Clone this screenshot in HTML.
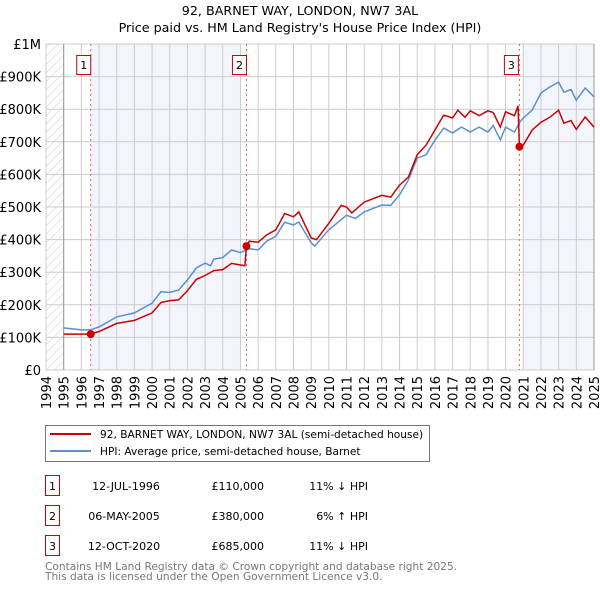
<!DOCTYPE html>
<html><head><meta charset="utf-8"><style>
body{margin:0;background:#fff;font-family:"DejaVu Sans","Liberation Sans",sans-serif;}
svg text{font-family:"DejaVu Sans","Liberation Sans",sans-serif;}
</style></head><body>
<svg id="chart" width="600" height="590" xmlns="http://www.w3.org/2000/svg">
<defs><pattern id="hatch" patternUnits="userSpaceOnUse" width="6" height="6" patternTransform="rotate(45)"><line x1="0" y1="0" x2="0" y2="6" stroke="#ccc" stroke-width="1"/></pattern></defs>
<text x="300" y="15" text-anchor="middle" font-size="12.7">92, BARNET WAY, LONDON, NW7 3AL</text>
<text x="300" y="32" text-anchor="middle" font-size="12.7">Price paid vs. HM Land Registry's House Price Index (HPI)</text>
<g id="plot"></g>
<g>
<rect x="45.5" y="425.5" width="384" height="36" fill="#fff" stroke="#777"/>
<line x1="50" y1="434" x2="91" y2="434" stroke="#cc0000" stroke-width="2"/>
<text x="100" y="438" font-size="10.6">92, BARNET WAY, LONDON, NW7 3AL (semi-detached house)</text>
<line x1="50" y1="451" x2="91" y2="451" stroke="#5b8fd0" stroke-width="2"/>
<text x="100" y="455" font-size="10.6">HPI: Average price, semi-detached house, Barnet</text>
</g>
<g font-size="11">
<rect x="45.5" y="475.5" width="14" height="20" fill="#fff" stroke="#cc0000"/><text x="52.5" y="490" text-anchor="middle">1</text>
<text x="126" y="490" text-anchor="middle">12-JUL-1996</text><text x="264" y="490" text-anchor="end">£110,000</text><text x="368" y="490" text-anchor="end">11% ↓ HPI</text>
<rect x="45.5" y="505.5" width="14" height="20" fill="#fff" stroke="#cc0000"/><text x="52.5" y="520" text-anchor="middle">2</text>
<text x="124" y="520" text-anchor="middle">06-MAY-2005</text><text x="264" y="520" text-anchor="end">£380,000</text><text x="368" y="520" text-anchor="end">6% ↑ HPI</text>
<rect x="45.5" y="535.5" width="14" height="20" fill="#fff" stroke="#cc0000"/><text x="52.5" y="550" text-anchor="middle">3</text>
<text x="124" y="550" text-anchor="middle">12-OCT-2020</text><text x="264" y="550" text-anchor="end">£685,000</text><text x="368" y="550" text-anchor="end">11% ↓ HPI</text>
</g>
<text x="45" y="570" font-size="10.6" fill="#777">Contains HM Land Registry data © Crown copyright and database right 2025.</text>
<text x="45" y="580" font-size="10.6" fill="#777">This data is licensed under the Open Government Licence v3.0.</text>
</svg>
<script>
const hpiYears=[1995,1996,1996.5,1997,1998,1999,2000,2000.5,2001,2001.5,2002,2002.5,2003,2003.3,2003.5,2004,2004.5,2005,2005.5,2006,2006.5,2007,2007.5,2008,2008.3,2009,2009.2,2010,2011,2011.5,2012,2013,2013.5,2014,2014.5,2015,2015.5,2016,2016.5,2017,2017.5,2018,2018.5,2019,2019.3,2019.7,2020,2020.5,2020.8,2021,2021.5,2022,2022.5,2023,2023.3,2023.7,2024,2024.5,2025];
const hpiValues=[129,123,123,132,163,175,205,240,238,245,276,313,328,320,340,345,368,360,372,368,396,410,453,445,454,390,380,430,475,465,485,506,505,537,583,650,660,705,742,727,745,730,745,730,750,706,745,730,760,773,797,850,868,883,852,860,828,865,838];
const ppYears=[1995,1996.5,1997,1998,1999,2000,2000.5,2001,2001.5,2002,2002.5,2003,2003.5,2004,2004.5,2005.25,2005.34,2005.5,2006,2006.5,2007,2007.5,2008,2008.3,2009,2009.3,2010,2010.7,2011,2011.3,2012,2013,2013.5,2014,2014.5,2015,2015.5,2016,2016.5,2017,2017.3,2017.7,2018,2018.5,2019,2019.3,2019.7,2020,2020.5,2020.7,2020.78,2021,2021.5,2022,2022.5,2023,2023.3,2023.7,2024,2024.5,2025];
const ppValues=[110,110,118,143,152,175,207,213,215,243,278,290,305,308,327,320,380,395,392,415,430,480,470,485,405,400,450,505,500,482,515,536,530,567,592,660,690,736,782,773,797,775,795,780,795,790,745,792,780,810,685,690,736,760,775,797,757,765,738,776,745];
const saleYears=[1996.53,2005.34,2020.78];
const saleValues=[110,380,685];
const saleLabels=["1","2","3"];
const yTicks=[0,100,200,300,400,500,600,700,800,900,1000];
const yTickLabels=["£0","£100K","£200K","£300K","£400K","£500K","£600K","£700K","£800K","£900K","£1M"];
const xYears=[1994,1995,1996,1997,1998,1999,2000,2001,2002,2003,2004,2005,2006,2007,2008,2009,2010,2011,2012,2013,2014,2015,2016,2017,2018,2019,2020,2021,2022,2023,2024,2025];

const X0=46,X1=594,Y0=370,Y1=44;
const xs=y=>X0+(y-1994)/(2025-1994)*(X1-X0);
const ys=v=>Y0-v/1000*(Y0-Y1);
const NS="http://www.w3.org/2000/svg";
const plot=document.getElementById('plot');
function mk(tag,attrs,parent){const e=document.createElementNS(NS,tag);for(const k in attrs)e.setAttribute(k,attrs[k]);(parent||plot).appendChild(e);return e;}

let bg=mk('rect',{x:X0,y:Y1,width:X1-X0,height:Y0-Y1,fill:'#fff'});


let hat=mk('rect',{x:X0,y:Y1,width:xs(1995)-X0,height:Y0-Y1,fill:'url(#hatch)'});


let sh1=mk('rect',{x:xs(saleYears[0]),y:Y1,width:xs(2005)-xs(saleYears[0]),height:Y0-Y1,fill:'#f2f5fc'});


let sh2=mk('rect',{x:xs(2021),y:Y1,width:X1-xs(2021),height:Y0-Y1,fill:'#f2f5fc'});



yTicks.forEach((t,i)=>{
  const g=mk('line',{x1:X0,x2:X1,y1:ys(t),y2:ys(t),stroke:'#ccc','stroke-width':1});
  
  
  const tx=mk('text',{x:X0-5,y:ys(t)+5,'text-anchor':'end','font-size':13});
  tx.textContent=yTickLabels[i];
  
  
});
xYears.forEach(yr=>{
  const g=mk('line',{x1:xs(yr),x2:xs(yr),y1:Y1,y2:Y0,stroke:'#ccc','stroke-width':1});
  
  
  const tx=mk('text',{x:0,y:0,'text-anchor':'end','font-size':13,transform:`translate(${xs(yr)+5},376) rotate(-90)`});
  tx.textContent=yr;
  
  
});
let ax=mk('line',{x1:xs(1995),x2:xs(1995),y1:Y1,y2:Y0,stroke:'#999','stroke-width':1});


let ax2=mk('line',{x1:X1,x2:X1,y1:Y1,y2:Y0,stroke:'#999','stroke-width':1});



saleYears.forEach((yr,i)=>{
  const l=mk('line',{x1:xs(yr),x2:xs(yr),y1:Y1,y2:Y0,stroke:'#e06060','stroke-width':1,'stroke-dasharray':'2,3'});
  
  
});

const path=(xa,va)=>xa.map((y,i)=>(i?'L':'M')+xs(y).toFixed(1)+','+ys(va[i]).toFixed(1)).join(' ');
let hl=mk('path',{d:path(hpiYears,hpiValues),fill:'none',stroke:'#5b8fd0','stroke-width':1.5});


let pl=mk('path',{d:path(ppYears,ppValues),fill:'none',stroke:'#cc0000','stroke-width':1.5});



saleYears.forEach((yr,i)=>{
  const c=mk('circle',{cx:xs(yr),cy:ys(saleValues[i]),r:4,fill:'#cc0000'});
  
  
  const bx=xs(yr)-(i==2?8:7)-7;
  const r=mk('rect',{x:bx,y:55.5,width:14,height:19,fill:'#fff',stroke:'#cc0000'});
  
  
  const t=mk('text',{x:bx+7,y:69,'text-anchor':'middle','font-size':11});
  t.textContent=saleLabels[i];
  
  
});
</script>
</body></html>
